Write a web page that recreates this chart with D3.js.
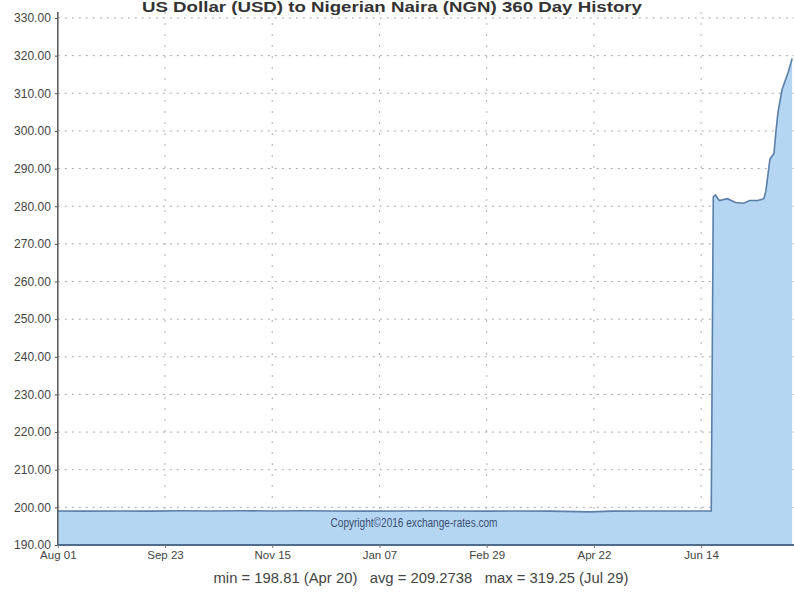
<!DOCTYPE html>
<html><head><meta charset="utf-8">
<script src="https://cdn.jsdelivr.net/npm/d3@7"></script>
<style>body{margin:0;background:#fff}svg{display:block}text{font-family:"Liberation Sans",Arial,sans-serif}</style>
</head><body><svg id="c" width="794" height="607"></svg>
<script>
const title = "US Dollar (USD) to Nigerian Naira (NGN) 360 Day History";
const dates = ["2015-08-01","2015-08-15","2015-09-01","2015-09-15","2015-10-01","2015-10-15","2015-11-01","2015-11-15","2015-12-01","2015-12-15","2016-01-01","2016-01-15","2016-02-01","2016-02-15","2016-03-01","2016-03-15","2016-04-01","2016-04-20","2016-05-01","2016-05-15","2016-06-01","2016-06-19","2016-06-20","2016-06-21","2016-06-23","2016-06-27","2016-07-01","2016-07-05","2016-07-08","2016-07-12","2016-07-15","2016-07-16","2016-07-18","2016-07-20","2016-07-21","2016-07-22","2016-07-24","2016-07-27","2016-07-29"];
const rates = [199.05,199.0,199.05,199.0,199.1,199.05,199.1,199.05,199.1,199.05,199.0,199.05,199.1,199.05,199.0,199.05,199.0,198.81,199.0,199.05,199.05,199.05,282.5,283.0,281.5,282.0,281.0,280.8,281.5,281.5,282.0,284.0,292.5,294.0,300.0,305.0,311.0,315.5,319.25];
const yTicks = [190,200,210,220,230,240,250,260,270,280,290,300,310,320,330];
const xTickDates = ["2015-08-01","2015-09-23","2015-11-15","2016-01-07","2016-02-29","2016-04-22","2016-06-14"];
const xTickLabels = ["Aug 01","Sep 23","Nov 15","Jan 07","Feb 29","Apr 22","Jun 14"];
const stats = "min = 198.81 (Apr 20)   avg = 209.2738   max = 319.25 (Jul 29)";
const copyright = "Copyright\u00A92016 exchange-rates.com";

const parse = d3.utcParse("%Y-%m-%d");
const data = dates.map((d,i)=>({d:parse(d), v:rates[i]}));
const svg = d3.select("#c");
const L = 57.8, R = 794.2, T = 18, B = 545;
const x = d3.scaleUtc().domain([parse("2015-08-01"), parse("2016-07-30")]).range([L, R]);
const y = d3.scaleLinear().domain([190,330]).range([B, T]);

// grid
svg.append("g").selectAll("line").data(yTicks.slice(1)).join("line")
  .attr("x1", L).attr("x2", 794).attr("y1", d=>y(d)).attr("y2", d=>y(d))
  .attr("stroke", "#a8a8a8").attr("stroke-width", 1).attr("stroke-dasharray", "2,5");
svg.append("g").selectAll("line").data(xTickDates.slice(1)).join("line")
  .attr("x1", d=>x(parse(d))).attr("x2", d=>x(parse(d))).attr("y1", 12).attr("y2", B)
  .attr("stroke", "#b0b0b0").attr("stroke-width", 1).attr("stroke-dasharray", "2,9");

// area & line
const area = d3.area().x(d=>x(d.d)).y0(y(190)).y1(d=>y(d.v));
const line = d3.line().x(d=>x(d.d)).y(d=>y(d.v));
svg.append("path").datum(data).attr("d", area).attr("fill", "#b5d6f3");
svg.append("path").datum(data).attr("d", line).attr("fill", "none").attr("stroke", "#5a7fa8").attr("stroke-width", 1.6);

// axes
const ya = svg.append("g").attr("transform", `translate(${L},0)`)
  .call(d3.axisLeft(y).tickValues(yTicks).tickFormat(d3.format(".2f")).tickSize(3).tickPadding(4));
ya.select(".domain").attr("stroke", "#555").attr("stroke-width", 1.5).attr("d", `M0,12V${B}`);
ya.selectAll(".tick line").attr("stroke", "#555");
ya.selectAll("text").attr("font-size", 12).attr("fill", "#444");

const xa = svg.append("g").attr("transform", `translate(0,${B})`)
  .call(d3.axisBottom(x).tickValues(xTickDates.map(parse)).tickFormat((d,i)=>xTickLabels[i]).tickSize(3).tickPadding(3));
xa.select(".domain").attr("stroke", "#4f6c8c").attr("stroke-width", 2).attr("d", `M${L},0H794`);
xa.selectAll(".tick line").attr("stroke", "#777");
xa.selectAll("text").attr("font-size", 11.5).attr("fill", "#444");

// texts
svg.append("text").attr("x", 392).attr("y", 12).attr("text-anchor", "middle")
  .attr("font-size", 14).attr("font-weight", "bold").attr("fill", "#333")
  .attr("textLength", 500).attr("lengthAdjust", "spacingAndGlyphs").text(title);
svg.append("text").attr("x", 414).attr("y", 527).attr("text-anchor", "middle")
  .attr("font-size", 13).attr("fill", "#3b4f72")
  .attr("textLength", 167).attr("lengthAdjust", "spacingAndGlyphs").text(copyright);
svg.append("text").attr("x", 421).attr("y", 583).attr("text-anchor", "middle")
  .attr("font-size", 14).attr("fill", "#444").attr("xml:space", "preserve")
  .attr("textLength", 415).attr("lengthAdjust", "spacingAndGlyphs").text(stats);
</script></body></html>
